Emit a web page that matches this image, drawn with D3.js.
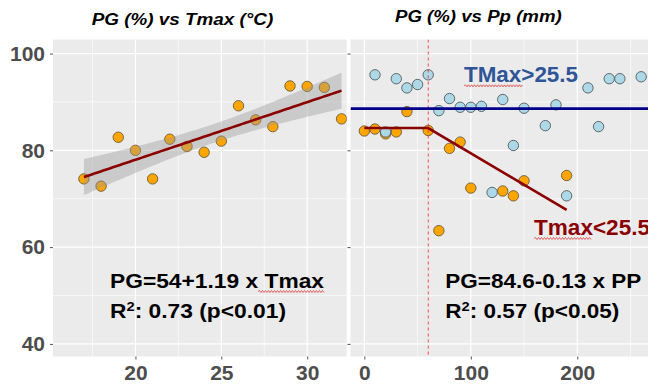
<!DOCTYPE html>
<html><head><meta charset="utf-8">
<script src="https://cdn.jsdelivr.net/npm/d3@7"></script>
<style>
body{margin:0;background:#fff}
text{font-family:"Liberation Sans",Arial,sans-serif}
</style>
</head><body>
<svg id="c" width="648" height="384"></svg>
<script>
// ---- data ----
const tmaxX  = [17,18,19,20,21,22,23,24,25,26,27,28,29,30,31,32];
const tmaxPG = [74.1,72.6,82.7,80.0,74.1,82.3,80.8,79.6,81.9,89.2,86.3,84.9,93.3,93.2,93.0,86.5];

const ppHighX  = [10,20,30,40,50,60,70,80,90,100,110,120,130,140,150,170,180,190,210,220,230,240,260];
const ppHighPG = [95.6,83.8,94.8,92.9,93.6,95.6,88.2,90.7,88.9,88.9,89.1,71.3,90.5,81.0,88.7,85.1,89.4,70.6,92.9,84.9,94.8,94.8,95.2];

const ppLowX  = [0,10,20,30,40,60,70,80,90,100,130,140,150,190];
const ppLowPG = [84.0,84.4,83.4,83.8,88.0,84.1,63.4,80.4,81.7,72.2,71.6,70.6,73.7,74.8];

const segPP = [0,60,190];
const segPG = [84.6,84.6,67.7];
const highMeanPG = 88.6;
const breakPP = 60;

const yTicks = [40,60,80,100];
const yMinor = [50,70,90];
const xTicksL = [20,25,30];
const xMinorL = [17.5,22.5,27.5];
const xTicksR = [0,100,200];
const xMinorR = [50,150,250];

const titleL = "PG (%) vs Tmax (°C)";
const titleR = "PG (%) vs Pp (mm)";
const eqL = ["PG=54+1.19 x Tmax", "0.73 (p<0.01)"];
const eqR = ["PG=84.6-0.13 x PP", "0.57 (p<0.05)"];
const labHigh = "TMax>25.5";
const labLow = "Tmax<25.5";

// ---- layout ----
const svg = d3.select("#c");
const yTop = 39.5, yBot = 356.5;
const L = {x0:53, x1:346.7}, R = {x0:350.5, x1:660};
const y = d3.scaleLinear().domain([37.4,102.9]).range([yBot, yTop]);
const xL = d3.scaleLinear().domain([15.2,32.3]).range([L.x0, L.x1]);
const xR = d3.scaleLinear().domain([-13,273]).range([R.x0, 655]);

const defs = svg.append("defs");
defs.append("clipPath").attr("id","clipL").append("rect")
  .attr("x",L.x0).attr("y",yTop).attr("width",L.x1-L.x0).attr("height",yBot-yTop);
defs.append("clipPath").attr("id","clipR").append("rect")
  .attr("x",R.x0).attr("y",yTop).attr("width",R.x1-R.x0).attr("height",yBot-yTop);

function panel(P, x, majX, minX, clipId){
  const g = svg.append("g");
  g.append("rect").attr("x",P.x0).attr("y",yTop).attr("width",P.x1-P.x0).attr("height",yBot-yTop).attr("fill","#EBEBEB");
  const gg = g.append("g").attr("clip-path",`url(#${clipId})`);
  gg.selectAll(".hmin").data(yMinor).join("line").attr("x1",P.x0).attr("x2",P.x1)
    .attr("y1",d=>y(d)).attr("y2",d=>y(d)).attr("stroke","#fff").attr("stroke-width",0.6);
  gg.selectAll(".vmin").data(minX).join("line").attr("y1",yTop).attr("y2",yBot)
    .attr("x1",d=>x(d)).attr("x2",d=>x(d)).attr("stroke","#fff").attr("stroke-width",0.6);
  gg.selectAll(".hmaj").data(yTicks).join("line").attr("x1",P.x0).attr("x2",P.x1)
    .attr("y1",d=>y(d)).attr("y2",d=>y(d)).attr("stroke","#fff").attr("stroke-width",1.2);
  gg.selectAll(".vmaj").data(majX).join("line").attr("y1",yTop).attr("y2",yBot)
    .attr("x1",d=>x(d)).attr("x2",d=>x(d)).attr("stroke","#fff").attr("stroke-width",1.2);
  return gg;
}
const gL = panel(L, xL, xTicksL, xMinorL, "clipL");
const gR = panel(R, xR, xTicksR, xMinorR, "clipR");

// axes
function styleAxis(sel, showText){
  sel.select(".domain").remove();
  sel.selectAll(".tick line").attr("stroke","#555").attr("stroke-width",1);
  sel.selectAll(".tick text").attr("fill","#4D4D4D").attr("font-size",21).attr("font-weight","bold")
    .style("font-family",'"Liberation Sans",Arial,sans-serif');
  if(!showText) sel.selectAll(".tick text").remove();
}
svg.append("g").attr("transform",`translate(${L.x0},0)`)
  .call(d3.axisLeft(y).tickValues(yTicks).tickSize(3).tickPadding(5)).call(s=>styleAxis(s,true));
svg.append("g").attr("transform",`translate(${R.x0},0)`)
  .call(d3.axisLeft(y).tickValues(yTicks).tickSize(3)).call(s=>styleAxis(s,false));
svg.append("g").attr("transform",`translate(0,${yBot})`)
  .call(d3.axisBottom(xL).tickValues(xTicksL).tickSize(3).tickPadding(6)).call(s=>styleAxis(s,true));
svg.append("g").attr("transform",`translate(0,${yBot})`)
  .call(d3.axisBottom(xR).tickValues(xTicksR).tickSize(3).tickPadding(6)).call(s=>styleAxis(s,true));

// ---- left panel: points, smooth band, fit ----
const ptsL = tmaxX.map((d,i)=>({x:d,y:tmaxPG[i]}));
gL.selectAll("circle.p").data(ptsL).join("circle")
  .attr("cx",d=>xL(d.x)).attr("cy",d=>y(d.y)).attr("r",5.2)
  .attr("fill","#FFA500").attr("stroke","#6b5a3a").attr("stroke-width",0.9);

const n = ptsL.length;
const mx = d3.mean(ptsL,d=>d.x), my = d3.mean(ptsL,d=>d.y);
const sxx = d3.sum(ptsL,d=>(d.x-mx)**2), sxy = d3.sum(ptsL,d=>(d.x-mx)*(d.y-my));
const b = sxy/sxx, a = my-b*mx;
const s = Math.sqrt(d3.sum(ptsL,d=>(d.y-(a+b*d.x))**2)/(n-2));
const tq = 2.145;
const xmin = d3.min(tmaxX), xmax = d3.max(tmaxX);
const grid = d3.range(0,81).map(i=>xmin+(xmax-xmin)*i/80);
const band = grid.map(xv=>{
  const fit=a+b*xv, se=s*Math.sqrt(1/n+(xv-mx)**2/sxx);
  return {x:xv, lo:fit-tq*se, hi:fit+tq*se, fit};
});
gL.append("path").datum(band)
  .attr("d",d3.area().x(d=>xL(d.x)).y0(d=>y(d.lo)).y1(d=>y(d.hi)))
  .attr("fill","#999").attr("fill-opacity",0.4);
gL.append("path").datum(band)
  .attr("d",d3.line().x(d=>xL(d.x)).y(d=>y(d.fit)))
  .attr("fill","none").attr("stroke","#8B0000").attr("stroke-width",2.6);

// ---- right panel ----
const lowPts = ppLowX.map((d,i)=>({x:d,y:ppLowPG[i]}));
const highPts = ppHighX.map((d,i)=>({x:d,y:ppHighPG[i]}));
gR.selectAll("circle.lo").data(lowPts).join("circle")
  .attr("cx",d=>xR(d.x)).attr("cy",d=>y(d.y)).attr("r",5.2)
  .attr("fill","#FFA500").attr("stroke","#6b5a3a").attr("stroke-width",0.9);
gR.selectAll("circle.hi").data(highPts).join("circle")
  .attr("cx",d=>xR(d.x)).attr("cy",d=>y(d.y)).attr("r",5.2)
  .attr("fill","#ADD8E6").attr("stroke","#505a60").attr("stroke-width",0.9);

gR.append("line").attr("x1",xR(breakPP)).attr("x2",xR(breakPP)).attr("y1",yTop).attr("y2",yBot)
  .attr("stroke","#ff3030").attr("stroke-width",0.9).attr("stroke-dasharray","3,3");
gR.append("line").attr("x1",R.x0).attr("x2",R.x1).attr("y1",y(highMeanPG)).attr("y2",y(highMeanPG))
  .attr("stroke","#00008B").attr("stroke-width",2.8);
gR.append("path").datum(segPP.map((d,i)=>({x:d,y:segPG[i]})))
  .attr("d",d3.line().x(d=>xR(d.x)).y(d=>y(d.y)))
  .attr("fill","none").attr("stroke","#8B0000").attr("stroke-width",2.6);

// ---- text ----
function wavy(x0,x1,yy){
  let d=`M${x0},${yy}`; let up=true;
  for(let xx=x0+1.5; xx<=x1; xx+=1.5){ d+=`L${xx},${yy+(up?-1:1)}`; up=!up; }
  svg.append("path").attr("d",d).attr("fill","none").attr("stroke","#e03a3a").attr("stroke-width",0.8);
}
svg.append("text").attr("x",91.7).attr("y",25).attr("font-size",16).attr("font-weight","bold")
  .attr("font-style","italic").attr("textLength",181.6).attr("lengthAdjust","spacingAndGlyphs").text(titleL);
svg.append("text").attr("x",395).attr("y",22).attr("font-size",16).attr("font-weight","bold")
  .attr("font-style","italic").attr("textLength",166.7).attr("lengthAdjust","spacingAndGlyphs").text(titleR);

function eq(x, lines, w1, w2){
  svg.append("text").attr("x",x).attr("y",287.5).attr("font-size",20).attr("font-weight","bold")
    .attr("textLength",w1).attr("lengthAdjust","spacingAndGlyphs").text(lines[0]);
  const t = svg.append("text").attr("x",x).attr("y",317.5).attr("font-size",20).attr("font-weight","bold")
    .attr("textLength",w2).attr("lengthAdjust","spacingAndGlyphs");
  t.append("tspan").text("R");
  t.append("tspan").attr("font-size",13).attr("dy",-7).text("2");
  t.append("tspan").attr("dy",7).text(": "+lines[1]);
}
eq(110, eqL, 214, 176);
eq(445.3, eqR, 196, 174);
wavy(258, 325, 291.5);

svg.append("text").attr("x",464).attr("y",81.7).attr("font-size",22).attr("font-weight","bold")
  .attr("fill","#2F5597").attr("textLength",114).attr("lengthAdjust","spacingAndGlyphs").text(labHigh);
wavy(464, 523, 85.8);
svg.append("text").attr("x",534).attr("y",235).attr("font-size",22).attr("font-weight","bold")
  .attr("fill","#8B0000").attr("textLength",116).attr("lengthAdjust","spacingAndGlyphs").text(labLow);
wavy(534, 592, 238.5);
</script>
</body></html>
